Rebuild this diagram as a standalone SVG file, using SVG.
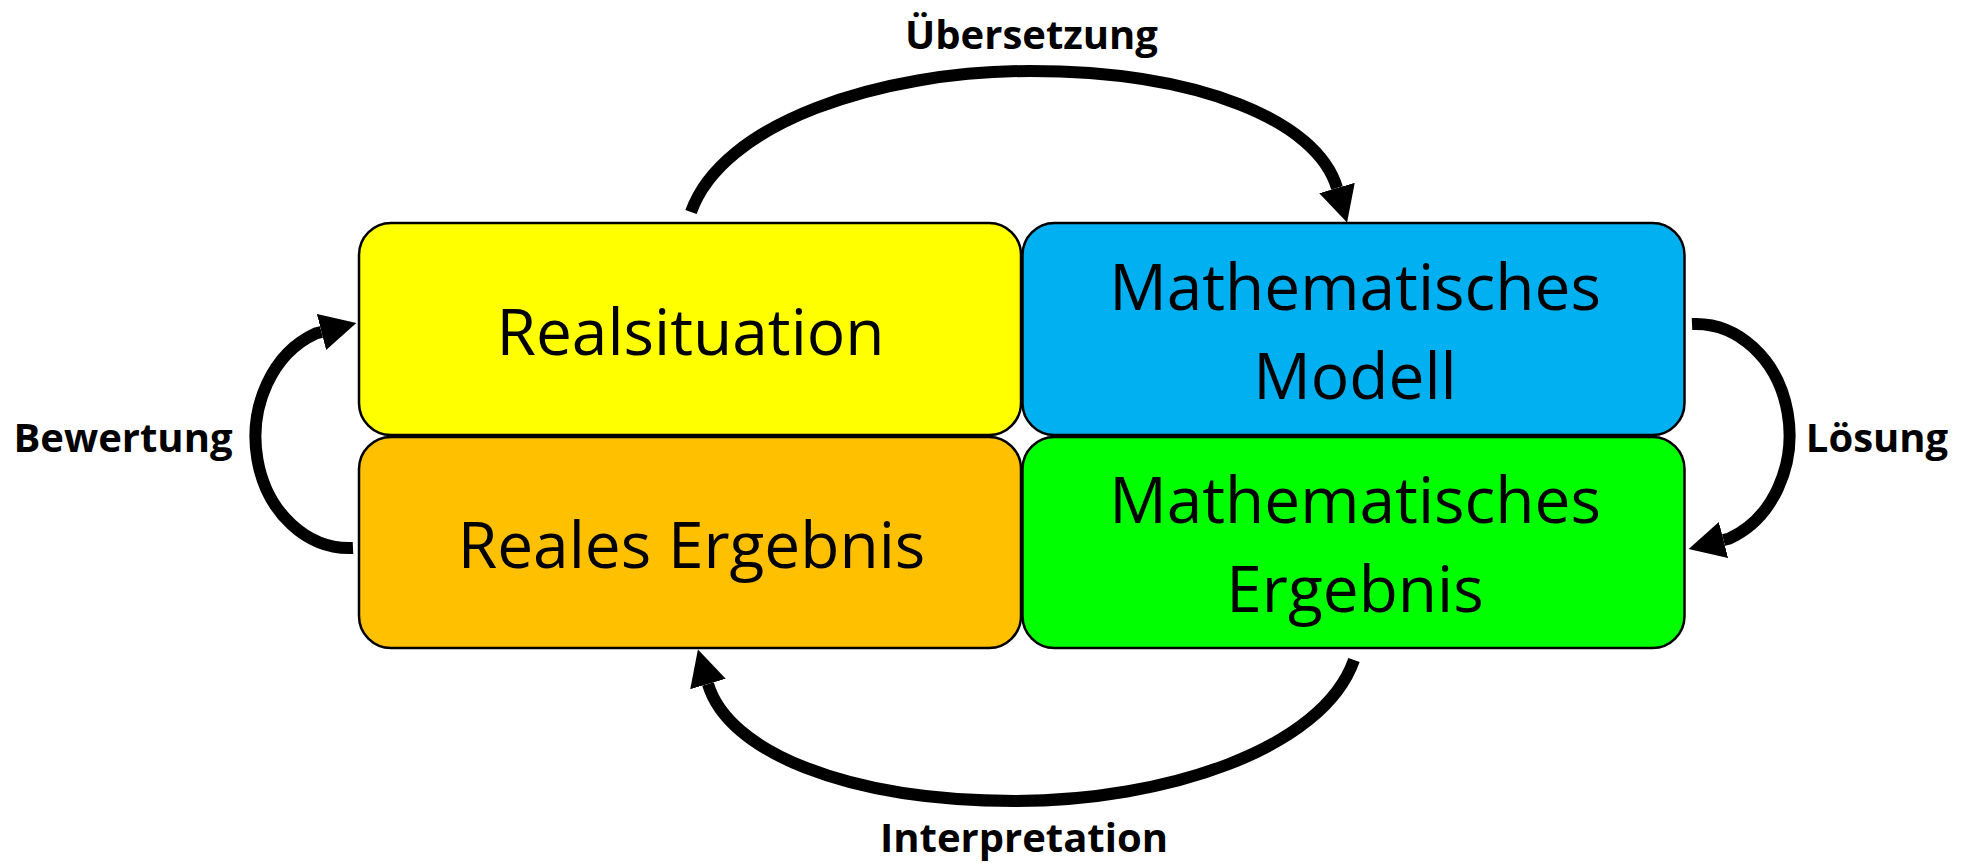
<svg xmlns="http://www.w3.org/2000/svg" width="1962" height="863" viewBox="0 0 1962 863">
  <style>
    .box { stroke: #000; stroke-width: 2.5; }
    .nodeText { font-family: "Open Sans", "Noto Sans", sans-serif; font-size: 64px; fill: #000; text-anchor: middle; }
    .label { font-family: "Open Sans", "Noto Sans", sans-serif; font-size: 40px; font-weight: bold; fill: #000; text-anchor: middle; }
    .conn { fill: none; stroke: #000; stroke-width: 12; stroke-linecap: butt; marker-end: url(#arrow); }
  </style>
  <defs>
    <marker id="arrow" markerUnits="userSpaceOnUse" viewBox="0 0 37 37" markerWidth="37" markerHeight="37" refX="0" refY="18.5" orient="auto">
      <path d="M0,0 L36,18.5 L0,37 Z" fill="#000"/>
    </marker>
  </defs>
  <rect width="1962" height="863" fill="#fff"/>

  <g id="node-realsituation">
    <rect class="box" x="359" y="223" width="662" height="212" rx="32" ry="32" fill="#FFFF00"/>
    <text class="nodeText" x="690.5" y="355">Realsituation</text>
  </g>
  <g id="node-mathematisches-modell">
    <rect class="box" x="1022.5" y="223" width="662" height="212" rx="32" ry="32" fill="#00B0F0"/>
    <text class="nodeText" x="1355" y="310">Mathematisches</text>
    <text class="nodeText" x="1355" y="399">Modell</text>
  </g>
  <g id="node-reales-ergebnis">
    <rect class="box" x="359" y="437" width="662" height="211" rx="32" ry="32" fill="#FFC000"/>
    <text class="nodeText" x="691.5" y="568">Reales Ergebnis</text>
  </g>
  <g id="node-mathematisches-ergebnis">
    <rect class="box" x="1022.5" y="437" width="662" height="211" rx="32" ry="32" fill="#00FF00"/>
    <text class="nodeText" x="1355" y="523">Mathematisches</text>
    <text class="nodeText" x="1355" y="612">Ergebnis</text>
  </g>

  <g id="connectors">
    <path class="conn" d="M 691 212 C 722.4 122.7 880 71 1030 71 C 1199 71 1317.4 120.8 1337 188"/>
    <path class="conn" d="M 1354 660 C 1322.6 749.3 1165 801 1015 801 C 846 801 727.6 751.2 708 684"/>
    <path class="conn" d="M 353 548 A 94 111 0 0 1 315.7 333.5 L 321.5 332"/>
    <path class="conn" d="M 1692 324 A 94 111 0 0 1 1729.3 538.5 L 1723.5 540"/>
  </g>

  <g id="labels">
    <text class="label" x="1031.5" y="49">Übersetzung</text>
    <text class="label" x="1024" y="852">Interpretation</text>
    <text class="label" x="123" y="452">Bewertung</text>
    <text class="label" x="1877" y="452">Lösung</text>
  </g>
</svg>
